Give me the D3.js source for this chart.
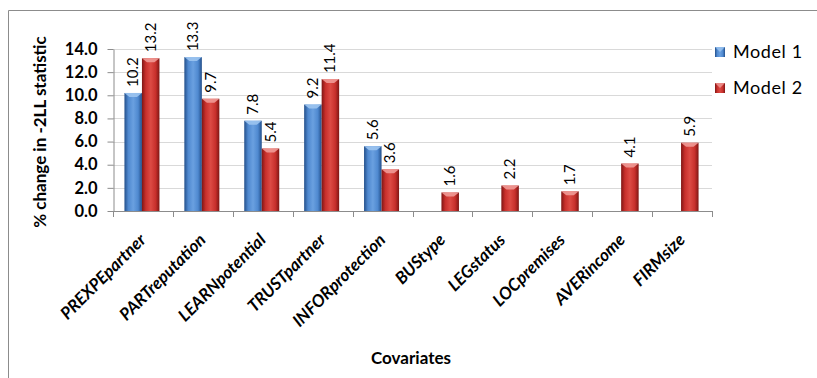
<!DOCTYPE html>
<html>
<head>
<meta charset="utf-8">
<script src="https://cdn.jsdelivr.net/npm/d3@7/dist/d3.min.js"></script>
<style>
  html, body { margin: 0; padding: 0; background: #fff; }
  svg { display: block; }
  text { font-family: Lato, "Open Sans", sans-serif; fill: #000; }
</style>
</head>
<body>
<svg id="chart" width="817" height="378"></svg>
<script>
// Covariates on the x axis
const categories = ["PREXPEpartner", "PARTreputation", "LEARNpotential", "TRUSTpartner",
  "INFORprotection", "BUStype", "LEGstatus", "LOCpremises", "AVERincome", "FIRMsize"];
// % change in -2LL statistic; null where the covariate is not in the model
const model1 = [10.2, 13.3, 7.8, 9.2, 5.6, null, null, null, null, null];
const model2 = [13.2, 9.7, 5.4, 11.4, 3.6, 1.6, 2.2, 1.7, 4.1, 5.9];
const seriesNames = ["Model 1", "Model 2"];
const yTicks = [0, 2, 4, 6, 8, 10, 12, 14];

const svg = d3.select("#chart");
const margin = { left: 113, right: 105, top: 49, bottom: 167 };
const W = 817, H = 378;
const x0 = margin.left, x1 = W - margin.right;
const yTop = margin.top, yBot = H - margin.bottom;

// chart frame
svg.append("path")
  .attr("d", `M8.5,${H} V10.5 H${W}`)
  .attr("fill", "none").attr("stroke", "#8c8c8c").attr("stroke-width", 1);

const x = d3.scaleBand().domain(categories).range([x0, x1]).paddingInner(0).paddingOuter(0);
const xs = d3.scaleBand().domain(seriesNames).range([0, 35]);
const y = d3.scaleLinear().domain([0, 14]).range([yBot, yTop]);

// gradients for the shaded bars
const defs = svg.append("defs");
const palettes = {
  "Model 1": { edge: "#234f8a", mid: "#4f89d0", light: "#6aa0e0", cap: "#9cc4f0" },
  "Model 2": { edge: "#7e1614", mid: "#c8302c", light: "#dc4a44", cap: "#f09a96" }
};
seriesNames.forEach((s, i) => {
  const p = palettes[s];
  const g = defs.append("linearGradient").attr("id", "grad" + i)
    .attr("x1", "0").attr("x2", "1").attr("y1", "0").attr("y2", "0");
  g.append("stop").attr("offset", "0%").attr("stop-color", p.edge);
  g.append("stop").attr("offset", "22%").attr("stop-color", p.mid);
  g.append("stop").attr("offset", "50%").attr("stop-color", p.light);
  g.append("stop").attr("offset", "78%").attr("stop-color", p.mid);
  g.append("stop").attr("offset", "100%").attr("stop-color", p.edge);
});

// gridlines
svg.append("g").selectAll("line").data(yTicks.filter(d => d > 0)).join("line")
  .attr("x1", x0).attr("x2", x1)
  .attr("y1", d => Math.round(y(d)) + 0.5).attr("y2", d => Math.round(y(d)) + 0.5)
  .attr("stroke", "#d9d9d9").attr("stroke-width", 1);

// y axis
const yAxis = d3.axisLeft(y).tickValues(yTicks).tickFormat(d3.format(".1f"))
  .tickSize(6).tickSizeOuter(0).tickPadding(10);
const gy = svg.append("g").attr("transform", `translate(${x0 + 0.5},0)`).call(yAxis);
gy.select(".domain").attr("stroke", "#8c8c8c");
gy.selectAll(".tick line").attr("stroke", "#8c8c8c");
gy.selectAll(".tick text").attr("font-size", 16.5).attr("font-weight", "bold")
  .attr("font-family", "Lato, sans-serif").attr("fill", "#000");

// x axis line with ticks at category boundaries
svg.append("line").attr("x1", x0).attr("x2", x1)
  .attr("y1", yBot + 0.5).attr("y2", yBot + 0.5).attr("stroke", "#8c8c8c");
const bounds = categories.map(c => x(c)).concat([x1]);
svg.append("g").selectAll("line").data(bounds).join("line")
  .attr("x1", d => Math.round(d) + 0.5).attr("x2", d => Math.round(d) + 0.5)
  .attr("y1", yBot).attr("y2", yBot + 6).attr("stroke", "#8c8c8c");

// bars
const rows = [];
categories.forEach((c, ci) => {
  [model1[ci], model2[ci]].forEach((v, si) => {
    if (v != null) rows.push({ cat: c, series: seriesNames[si], si, value: v });
  });
});
const barOffset = (x.bandwidth() - 35) / 2 - 1;
const bars = svg.append("g").selectAll("g").data(rows).join("g")
  .attr("transform", d => `translate(${x(d.cat) + barOffset + xs(d.series)},0)`);
bars.append("rect")
  .attr("x", 0).attr("width", xs.bandwidth())
  .attr("y", d => y(d.value)).attr("height", d => yBot - y(d.value))
  .attr("fill", d => `url(#grad${d.si})`);
// bevelled top
bars.append("path")
  .attr("d", d => {
    const w = xs.bandwidth(), t = y(d.value);
    return `M0,${t} H${w} L${w - 5},${t + 4} H5 Z`;
  })
  .attr("fill", d => palettes[d.series].cap).attr("opacity", 0.9);

// value labels, rotated
bars.append("text")
  .attr("transform", d => `translate(${xs.bandwidth() / 2 + 5},${y(d.value) - 6}) rotate(-90)`)
  .attr("font-size", 15)
  .attr("text-anchor", "start")
  .text(d => d3.format(".1f")(d.value));

// category labels
svg.append("g").selectAll("text").data(categories).join("text")
  .attr("transform", c => `translate(${x(c) + x.bandwidth() / 2 + 4},${yBot + 30}) rotate(-45)`)
  .attr("text-anchor", "end")
  .attr("font-size", 17).attr("font-weight", "bold").attr("font-style", "italic")
  .text(c => c);

// axis titles
svg.append("text")
  .attr("transform", `translate(46,${(yTop + yBot) / 2 + 2}) rotate(-90)`)
  .attr("text-anchor", "middle").attr("font-size", 17).attr("font-weight", "bold")
  .text("% change in -2LL statistic");
svg.append("text")
  .attr("x", 411).attr("y", 364)
  .attr("text-anchor", "middle").attr("font-size", 17).attr("font-weight", "bold")
  .text("Covariates");

// legend
const legend = svg.append("g").selectAll("g").data(seriesNames).join("g")
  .attr("transform", (d, i) => `translate(715,${47 + i * 36})`);
legend.append("rect").attr("width", 10).attr("height", 10)
  .attr("fill", (d, i) => `url(#grad${i})`);
legend.append("path").attr("d", "M0,0 H10 L5,5 Z")
  .attr("fill", d => palettes[d].cap).attr("opacity", 0.8);
legend.append("text").attr("x", 18).attr("y", 11)
  .attr("font-size", 18).attr("letter-spacing", 0.6).text(d => d);
</script>
</body>
</html>
